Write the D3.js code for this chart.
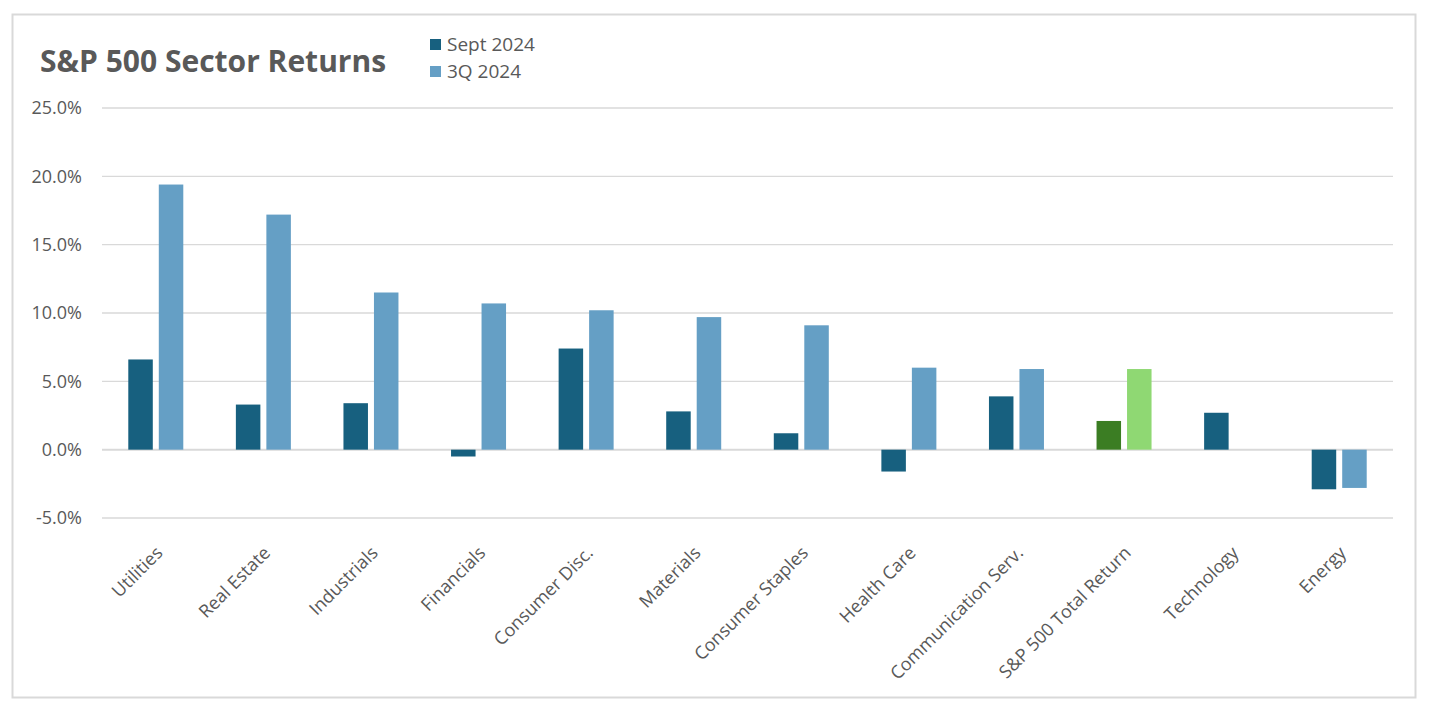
<!DOCTYPE html>
<html>
<head>
<meta charset="utf-8">
<script src="https://cdn.jsdelivr.net/npm/d3@7"></script>
<style>
  body { margin: 0; background: #fff; }
  text { font-family: "Open Sans", "Noto Sans", sans-serif; fill: #595959; }
</style>
</head>
<body>
<div id="chart"></div>
<script>
// categories and values
const sectors = ['Utilities', 'Real Estate', 'Industrials', 'Financials', 'Consumer Disc.',
    'Materials', 'Consumer Staples', 'Health Care', 'Communication Serv.',
    'S&P 500 Total Return', 'Technology', 'Energy']
const sept2024 = [6.6, 3.3, 3.4, -0.5, 7.4, 2.8, 1.2, -1.6, 3.9, 2.1, 2.7, -2.9]
const q3_2024 = [19.4, 17.2, 11.5, 10.7, 10.2, 9.7, 9.1, 6.0, 5.9, 5.9, 0, -2.8]
const yTicks = [-5, 0, 5, 10, 15, 20, 25]
const seriesNames = ['Sept 2024', '3Q 2024']

const colors = { sept: '#17607f', q3: '#659fc5', septTotal: '#3b7d23', q3Total: '#8fd873' }

function draw() {
    const dimensions = {
        width: 1429,
        height: 706,
        margin: { top: 108, bottom: 256, left: 102, right: 36 }
    }

    const svg = d3.select('#chart')
        .append('svg')
        .attr('width', dimensions.width)
        .attr('height', dimensions.height)

    // outer frame
    svg.append('rect')
        .attr('x', 12.5).attr('y', 14.5)
        .attr('width', 1403).attr('height', 683)
        .attr('fill', 'none')
        .attr('stroke', '#d9d9d9')
        .attr('stroke-width', 2)

    const innerW = dimensions.width - dimensions.margin.left - dimensions.margin.right

    const ctr = svg.append('g')
        .attr('transform', `translate(${dimensions.margin.left}, ${dimensions.margin.top})`)

    const x = d3.scaleBand().domain(sectors).range([0, innerW])
    const y = d3.scaleLinear().domain([25, -5]).range([0, 410])

    // gridlines
    ctr.append('g')
        .selectAll('line')
        .data(yTicks)
        .join('line')
        .attr('x1', 0).attr('x2', innerW)
        .attr('y1', d => y(d)).attr('y2', d => y(d))
        .attr('stroke', '#d9d9d9')
        .attr('stroke-width', d => d === 0 ? 2 : 1.3)

    // y axis labels (plain hyphen like the original)
    const yAxis = d3.axisLeft(y)
        .tickValues(yTicks)
        .tickFormat(d => d.toFixed(1) + '%')
        .tickSize(0)
        .tickPadding(20)
    ctr.append('g')
        .call(yAxis)
        .call(g => g.select('.domain').remove())
        .selectAll('text')
        .attr('font-size', 18)
        .style('font-family', '"Open Sans", sans-serif')
        .attr('fill', '#595959')

    const bw = 24.5
    const gap = 3

    const bars = ctr.append('g')
    const rows = sectors.map((s, i) => ({ s, i, sept: sept2024[i], q3: q3_2024[i] }))

    bars.selectAll('.sept')
        .data(rows)
        .join('rect')
        .attr('class', 'sept')
        .attr('x', d => x(d.s) + x.bandwidth() / 2 - gap - bw)
        .attr('y', d => y(Math.max(0, d.sept)))
        .attr('width', bw)
        .attr('height', d => Math.abs(y(d.sept) - y(0)))
        .attr('fill', d => d.s === 'S&P 500 Total Return' ? colors.septTotal : colors.sept)

    bars.selectAll('.q3')
        .data(rows.filter(d => d.q3 !== 0))
        .join('rect')
        .attr('class', 'q3')
        .attr('x', d => x(d.s) + x.bandwidth() / 2 + gap)
        .attr('y', d => y(Math.max(0, d.q3)))
        .attr('width', bw)
        .attr('height', d => Math.abs(y(d.q3) - y(0)))
        .attr('fill', d => d.s === 'S&P 500 Total Return' ? colors.q3Total : colors.q3)

    // x labels, rotated
    ctr.append('g')
        .selectAll('text')
        .data(sectors)
        .join('text')
        .attr('transform', d => `translate(${x(d) + x.bandwidth() / 2 + 8}, ${y(-5) + 36}) rotate(-45)`)
        .attr('text-anchor', 'end')
        .attr('font-size', 18)
        .text(d => d)

    // title
    svg.append('text')
        .attr('x', 40).attr('y', 72)
        .attr('font-size', 30)
        .attr('font-weight', 'bold')
        .text('S&P 500 Sector Returns')

    // legend
    const legend = svg.append('g').attr('transform', 'translate(430, 39)')
    const legendColors = [colors.sept, colors.q3]
    seriesNames.forEach((name, i) => {
        legend.append('rect')
            .attr('x', 0).attr('y', i * 27)
            .attr('width', 11).attr('height', 11)
            .attr('fill', legendColors[i])
        legend.append('text')
            .attr('x', 17).attr('y', i * 27 + 12)
            .attr('font-size', 19)
            .text(name)
    })
}

draw()
</script>
</body>
</html>
